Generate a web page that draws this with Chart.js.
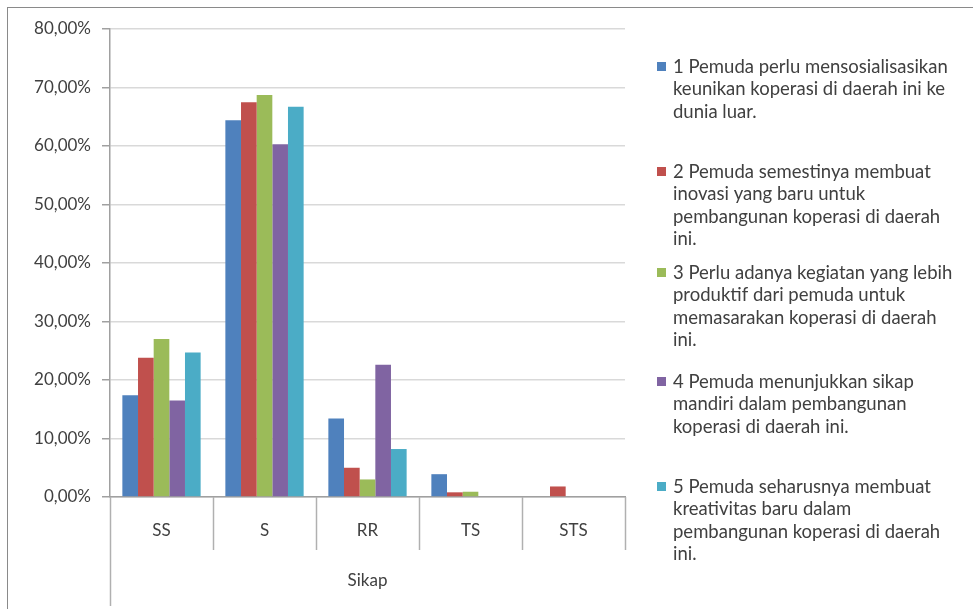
<!DOCTYPE html>
<html>
<head>
<meta charset="utf-8">
<script src="https://cdn.jsdelivr.net/npm/chart.js@4/dist/chart.umd.min.js"></script>
<style>
  html, body { margin: 0; padding: 0; background: #fff; }
  #wrap { position: relative; width: 973px; height: 609px; }
  #frame { position: absolute; left: 7px; top: 7px; width: 975px; height: 620px; border: 1px solid #8a8a8a; box-sizing: border-box; pointer-events: none; }
</style>
</head>
<body>
<div id="wrap">
  <canvas id="barChart" width="973" height="609"></canvas>
  <div id="frame"></div>
</div>
<script>
const categories = ["SS", "S", "RR", "TS", "STS"];

const seri1 = [17.4, 64.4, 13.4, 3.9, 0];
const seri2 = [23.8, 67.5, 5.0, 0.8, 1.8];
const seri3 = [27.0, 68.7, 3.0, 0.9, 0];
const seri4 = [16.5, 60.3, 22.6, 0, 0];
const seri5 = [24.7, 66.7, 8.2, 0, 0];

const legendTexts = [
  ["1 Pemuda perlu mensosialisasikan", "keunikan koperasi di daerah ini ke", "dunia luar."],
  ["2 Pemuda semestinya membuat", "inovasi yang baru untuk", "pembangunan koperasi di daerah", "ini."],
  ["3 Perlu adanya kegiatan yang lebih", "produktif dari pemuda untuk", "memasarakan koperasi di daerah", "ini."],
  ["4 Pemuda menunjukkan sikap", "mandiri dalam pembangunan", "koperasi di daerah ini."],
  ["5 Pemuda seharusnya membuat", "kreativitas baru dalam", "pembangunan koperasi di daerah", "ini."]
];
const legendTop = [67, 172, 273, 382, 487];

const colors = ["#4F81BD", "#C0504D", "#9BBB59", "#8064A2", "#4BACC6"];
const axisTitle = "Sikap";

const fontFam = "Lato, 'Open Sans', sans-serif";
const textColor = "#404040";

// legend + multi-level axis lines
const extras = {
  id: "extras",
  afterDraw(chart) {
    const ctx = chart.ctx;
    const area = chart.chartArea;
    ctx.save();
    ctx.strokeStyle = "#b0b0b0";
    ctx.lineWidth = 1.5;
    const step = (area.right - area.left) / categories.length;
    for (let i = 1; i <= categories.length; i++) {
      const px = Math.round(area.left + step * i) + 0.5;
      ctx.beginPath();
      ctx.moveTo(px, area.bottom);
      ctx.lineTo(px, area.bottom + 53);
      ctx.stroke();
    }
    ctx.beginPath();
    ctx.moveTo(Math.round(area.left) + 0.5, area.bottom);
    ctx.lineTo(Math.round(area.left) + 0.5, 606);
    ctx.stroke();

    ctx.font = "18.5px " + fontFam;
    ctx.textBaseline = "middle";
    legendTexts.forEach((lines, i) => {
      ctx.fillStyle = colors[i];
      ctx.fillRect(657, legendTop[i] - 5, 9, 9);
      ctx.fillStyle = textColor;
      lines.forEach((t, j) => {
        ctx.fillText(t, 673, legendTop[i] + j * 22.5);
      });
    });
    ctx.restore();
  }
};

const barChart = document.getElementById("barChart").getContext("2d");

new Chart(barChart, {
  type: "bar",
  data: {
    labels: categories,
    datasets: [seri1, seri2, seri3, seri4, seri5].map((d, i) => ({
      label: legendTexts[i].join(" "),
      data: d,
      backgroundColor: colors[i],
      categoryPercentage: 0.76,
      barPercentage: 1
    }))
  },
  options: {
    responsive: false,
    animation: false,
    layout: {
      padding: { top: 29, right: 348, bottom: 0, left: 0 }
    },
    scales: {
      x: {
        afterFit: s => { s.height = 112; },
        grid: { display: false },
        border: { color: "#a0a0a0", width: 1.5 },
        ticks: { color: textColor, font: { family: fontFam, size: 17 }, padding: 15 },
        title: {
          display: true,
          text: axisTitle,
          color: textColor,
          font: { family: fontFam, size: 17 },
          padding: { top: 0, bottom: 18 }
        }
      },
      y: {
        min: 0,
        max: 80,
        afterFit: s => { s.width = 110; },
        ticks: {
          stepSize: 10,
          padding: 11,
          color: textColor,
          font: { family: fontFam, size: 17 },
          callback: v => v.toFixed(2).replace(".", ",") + "%"
        },
        grid: { color: "#d9d9d9", lineWidth: 1.5, tickLength: 8, tickColor: "#a0a0a0" },
        border: { color: "#a0a0a0", width: 1.5 }
      }
    },
    plugins: {
      legend: { display: false },
      tooltip: { enabled: false }
    }
  },
  plugins: [extras]
});
</script>
</body>
</html>
